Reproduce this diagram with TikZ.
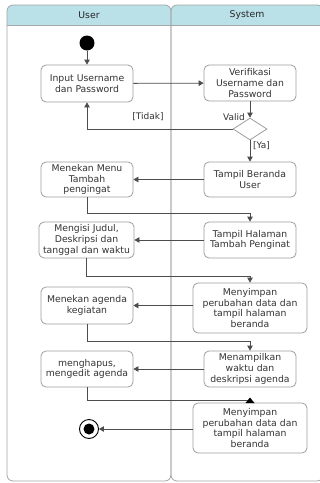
\documentclass[tikz,border=0pt]{standalone}
\usepackage{fontspec}
\setmainfont{DejaVu Sans}
\usetikzlibrary{shapes.geometric,arrows.meta}
\definecolor{lanegray}{HTML}{A6A6A6}
\definecolor{boxgray}{HTML}{9E9E9E}
\definecolor{linegray}{HTML}{4D4D4D}
\definecolor{txt}{HTML}{333333}
\definecolor{headblue}{HTML}{BAE0E8}
\tikzset{
  lane/.style={draw=lanegray, line width=0.8pt, rounded corners=6pt},
  box/.style={draw=boxgray, line width=0.8pt, rounded corners=5pt, align=center,
    text=txt, inner sep=1pt, font=\fontsize{9.3}{10.8}\selectfont},
  conn/.style={draw=linegray, line width=0.8pt, -{Triangle[width=5.5pt,length=5pt]}},
  lbl/.style={text=txt, inner sep=0pt, font=\fontsize{9}{10.8}\selectfont},
  hd/.style={text=black!85, inner sep=0pt, font=\fontsize{9.3}{10.8}\selectfont}
}
\begin{document}
\begin{tikzpicture}[x=1pt,y=-1pt]
\clip (0,0) rectangle (320,483);
\fill[white] (0,0) rectangle (320,483);
% lanes
\begin{scope}
  \clip[rounded corners=6pt] (7,5) rectangle (171,481);
  \fill[headblue] (7,5) rectangle (171,25);
\end{scope}
\begin{scope}
  \clip[rounded corners=6pt] (171,5) rectangle (323,481);
  \fill[headblue] (171,5) rectangle (323,25);
\end{scope}
\draw[lane] (7,5) rectangle (171,481);
\draw[lane] (171,5) rectangle (323,481);
\draw[draw=lanegray, line width=0.8pt] (7,25) -- (323,25);
\node[hd] (hUser) at (89,15) {User};
\node[hd] (hSys) at (247,15) {System};

% nodes
\node[circle, fill=black, minimum size=15pt, inner sep=0] (start) at (87,43) {};
\node[box, minimum width=92pt, minimum height=37pt] (input) at (87,83.5) {Input Username\\dan Password};
\node[box, minimum width=92pt, minimum height=36pt] (verif) at (250,83) {Verifikasi\\Username dan\\Password};
\node[diamond, draw=boxgray, line width=0.8pt, fill=white, aspect=1.5, minimum width=34pt, minimum height=22pt, inner sep=0] (dec) at (250,129) {};
\node[box, minimum width=92pt, minimum height=35pt] (beranda) at (250,179.5) {Tampil Beranda\\User};
\node[box, minimum width=92pt, minimum height=35pt] (menu) at (87,179.5) {Menekan Menu\\Tambah\\pengingat};
\node[box, minimum width=92pt, minimum height=36pt] (halaman) at (250,240) {Tampil Halaman\\Tambah Penginat};
\node[box, minimum width=95pt, minimum height=36pt] (isi) at (86.5,240) {Mengisi Judul,\\Deskripsi dan\\tanggal dan waktu};
\node[box, minimum width=114pt, minimum height=50pt] (simpan1) at (250,308) {Menyimpan\\perubahan data dan\\tampil halaman\\beranda};
\node[box, minimum width=92pt, minimum height=37pt] (agenda) at (87,305.5) {Menekan agenda\\kegiatan};
\node[box, minimum width=92pt, minimum height=36pt] (tampil) at (250,369) {Menampilkan\\waktu dan\\deskripsi agenda};
\node[box, minimum width=92pt, minimum height=36pt] (hapus) at (87,369) {menghapus,\\mengedit agenda};
\node[box, minimum width=114pt, minimum height=50pt] (simpan2) at (250,428) {Menyimpan\\perubahan data dan\\tampil halaman\\beranda};
\node[circle, draw=black, line width=0.9pt, minimum size=19pt, inner sep=0] (end) at (89,429) {};
\fill[black] (end.center) circle (5.5pt);

% labels
\node[lbl, anchor=east] (valid) at (245,117) {Valid};
\node[lbl] (tidak) at (148,117) {[Tidak]};
\node[lbl, anchor=west] (ya) at (253,146) {[Ya]};

% connectors
\draw[conn] (start) -- (input);
\draw[conn] (input) -- (verif);
\draw[conn] (verif) -- (dec);
\draw[conn] (dec.west) -| (input.south);
\draw[conn] (dec.south) -- (beranda.north);
\draw[conn] (beranda) -- (menu);
\draw[conn] (menu.south) -- ++(0,16) -| (halaman.north);
\draw[conn] (halaman) -- (isi);
\draw[conn] (isi.south) -- ++(0,18) -| (simpan1.north);
\draw[conn] (simpan1.west |- agenda.east) -- (agenda.east);
\draw[conn] (agenda.south) -- ++(0,17) -| (tampil.north);
\draw[conn] (tampil) -- (hapus);
\coordinate (c5) at (250,400.5);
\draw[draw=linegray, line width=0.8pt] (hapus.south) |- (c5);
\fill[black] (245.5,403) -- (250,397.5) -- (254.5,403) -- cycle;
\draw[conn] (simpan2.west |- end.east) -- (end.east);
\end{tikzpicture}
\end{document}
